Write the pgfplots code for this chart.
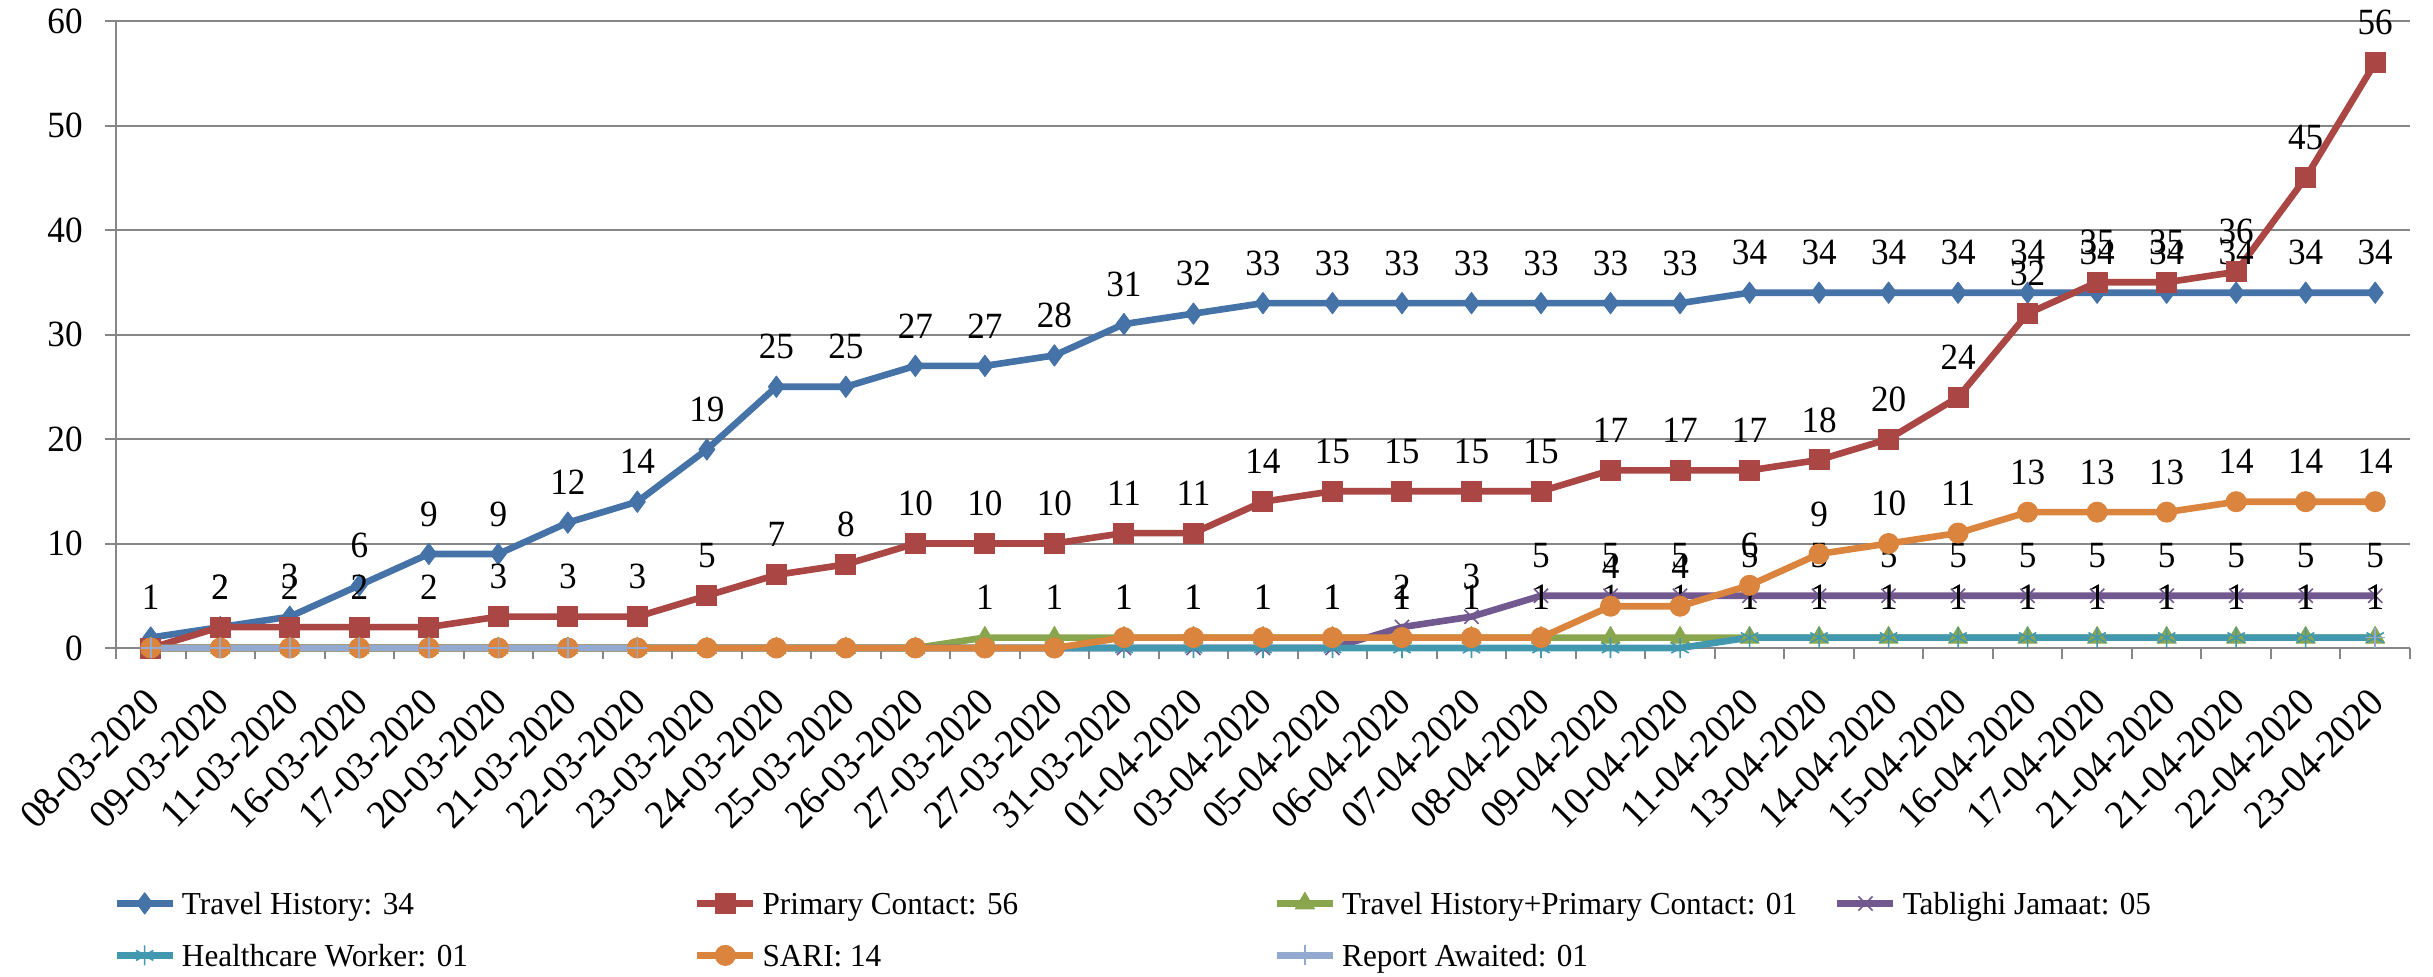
\documentclass[border=0pt]{standalone}
\usepackage{fontspec}
\setmainfont{Liberation Serif}
\newfontfamily\labfont{Liberation Serif}[FakeStretch=0.95]
\newfontfamily\legfont{Liberation Serif}[FakeStretch=0.975]
\usepackage{pgfplots}
\usepackage{pgfplotstable}
\pgfplotsset{compat=1.18}
\usetikzlibrary{plotmarks}

\definecolor{cTH}{RGB}{69,114,167}
\definecolor{cPC}{RGB}{170,70,67}
\definecolor{cTP}{RGB}{137,165,78}
\definecolor{cTJ}{RGB}{113,88,143}
\definecolor{cHW}{RGB}{65,152,175}
\definecolor{cSA}{RGB}{219,132,61}
\definecolor{cRA}{RGB}{147,169,207}
\definecolor{gridc}{RGB}{134,134,134}

\pgfplotstableread{
idx TH PC THPC TJ HW SARI RA
0 1 0 0 0 0 0 0
1 2 2 0 0 0 0 0
2 3 2 0 0 0 0 0
3 6 2 0 0 0 0 0
4 9 2 0 0 0 0 0
5 9 3 0 0 0 0 0
6 12 3 0 0 0 0 0
7 14 3 0 0 0 0 0
8 19 5 0 0 0 0 nan
9 25 7 0 0 0 0 nan
10 25 8 0 0 0 0 nan
11 27 10 0 0 0 0 nan
12 27 10 1 0 0 0 nan
13 28 10 1 0 0 0 nan
14 31 11 1 0 0 1 nan
15 32 11 1 0 0 1 nan
16 33 14 1 0 0 1 nan
17 33 15 1 0 0 1 nan
18 33 15 1 2 0 1 nan
19 33 15 1 3 0 1 nan
20 33 15 1 5 0 1 nan
21 33 17 1 5 0 4 nan
22 33 17 1 5 0 4 nan
23 34 17 1 5 1 6 nan
24 34 18 1 5 1 9 nan
25 34 20 1 5 1 10 nan
26 34 24 1 5 1 11 nan
27 34 32 1 5 1 13 nan
28 34 35 1 5 1 13 nan
29 34 35 1 5 1 13 nan
30 34 36 1 5 1 14 nan
31 34 45 1 5 1 14 nan
32 34 56 1 5 1 14 1
}\data

\begin{document}
\begin{tikzpicture}
\begin{axis}[
  at={(0pt,0pt)}, anchor=south west,
  width=1147pt, height=313.5pt, scale only axis,
  xmin=-0.5, xmax=32.5, ymin=0, ymax=60,
  ytick={0,10,...,60},
  xtick={0,...,32},
  xticklabels={08-03-2020,09-03-2020,11-03-2020,16-03-2020,17-03-2020,20-03-2020,21-03-2020,22-03-2020,23-03-2020,24-03-2020,25-03-2020,26-03-2020,27-03-2020,27-03-2020,31-03-2020,01-04-2020,03-04-2020,05-04-2020,06-04-2020,07-04-2020,08-04-2020,09-04-2020,10-04-2020,11-04-2020,13-04-2020,14-04-2020,15-04-2020,16-04-2020,17-04-2020,21-04-2020,21-04-2020,22-04-2020,23-04-2020},
  minor xtick={-0.5,0.5,...,32.5},
  axis x line*=bottom, axis y line*=left,
  axis line style={draw=gridc, line width=1pt},
  ymajorgrids, grid style={draw=gridc, line width=1pt},
  tick align=outside,
  major tick length=5.5pt, minor tick length=5.5pt,
  every major x tick/.append style={draw=none},
  every minor x tick/.append style={draw=gridc, line width=1pt},
  every major y tick/.append style={draw=gridc, line width=1pt},
  /pgf/number format/assume math mode=true,
  tick label style={font=\labfont\fontsize{18.5}{22}\selectfont, black},
  yticklabel style={anchor=east, inner sep=0pt, xshift=-11pt},
  xticklabel style={yshift=-18.5pt, xshift=1pt, rotate=45, anchor=east, inner sep=0pt, font=\labfont\fontsize{20}{24}\selectfont},
  clip=false,
  unbounded coords=jump,
  every axis plot/.append style={line width=3.3pt, line join=round},
  point meta=y,
  nodes near coords={\pgfmathfloatifflags{\pgfplotspointmeta}{0}{}{\pgfmathprintnumber{\pgfplotspointmeta}}},
  every node near coord/.append style={anchor=center, yshift=20pt, black, font=\labfont\fontsize{18.5}{22}\selectfont, inner sep=0pt},
  legend columns=4,
  legend cell align=left,
  legend image code/.code={\draw[mark repeat=2,mark phase=2,#1] plot coordinates {(0pt,0pt) (14pt,0pt) (28pt,0pt)};},
  legend style={at={(0,0)}, anchor=north west, xshift=-1.5pt, yshift=-117pt,
    draw=none, fill=none, inner sep=0pt, row sep=5pt, column sep=0pt,
    font=\legfont\fontsize{16}{19}\selectfont,
    nodes={inner sep=0pt, text height=16pt, text depth=5pt}},
]
\addplot[color=cTH, mark=diamond*, mark size=5.3pt, mark options={solid, fill=cTH, line width=0.5pt}] table[x=idx, y=TH] {\data};
\addlegendentry{\hspace{3pt}\makebox[256pt][l]{Travel History: 34}}
\addplot[color=cPC, mark=square*, mark size=5pt, mark options={solid, fill=cPC, line width=0.5pt}] table[x=idx, y=PC] {\data};
\addlegendentry{\hspace{3pt}\makebox[255.5pt][l]{Primary Contact: 56}}
\addplot[color=cTP, mark=triangle*, mark size=5.5pt, mark options={solid, fill=cTP, line width=0.5pt}] table[x=idx, y=THPC] {\data};
\addlegendentry{\hspace{3pt}\makebox[246pt][l]{Travel History+Primary Contact: 01}}
\addplot[color=cTJ, mark=x, mark size=5pt, mark options={solid, line width=0.8pt}] table[x=idx, y=TJ] {\data};
\addlegendentry{\hspace{3pt}Tablighi Jamaat: 05}
\addplot[color=cHW, mark=asterisk, mark size=5pt, mark options={solid, line width=0.8pt}] table[x=idx, y=HW] {\data};
\addlegendentry{\hspace{3pt}\makebox[256pt][l]{Healthcare Worker: 01}}
\addplot[color=cSA, mark=*, mark size=5pt, mark options={solid, fill=cSA, line width=0.5pt}] table[x=idx, y=SARI] {\data};
\addlegendentry{\hspace{3pt}\makebox[255.5pt][l]{SARI: 14}}
\addplot[color=cRA, mark=+, mark size=5pt, mark options={solid, line width=0.8pt}] table[x=idx, y=RA] {\data};
\addlegendentry{\hspace{3pt}\makebox[246pt][l]{Report Awaited: 01}}
\end{axis}
\pgfresetboundingbox
\path[use as bounding box] (-58pt,-164pt) rectangle (1158.5pt,324pt);
\end{tikzpicture}
\end{document}
